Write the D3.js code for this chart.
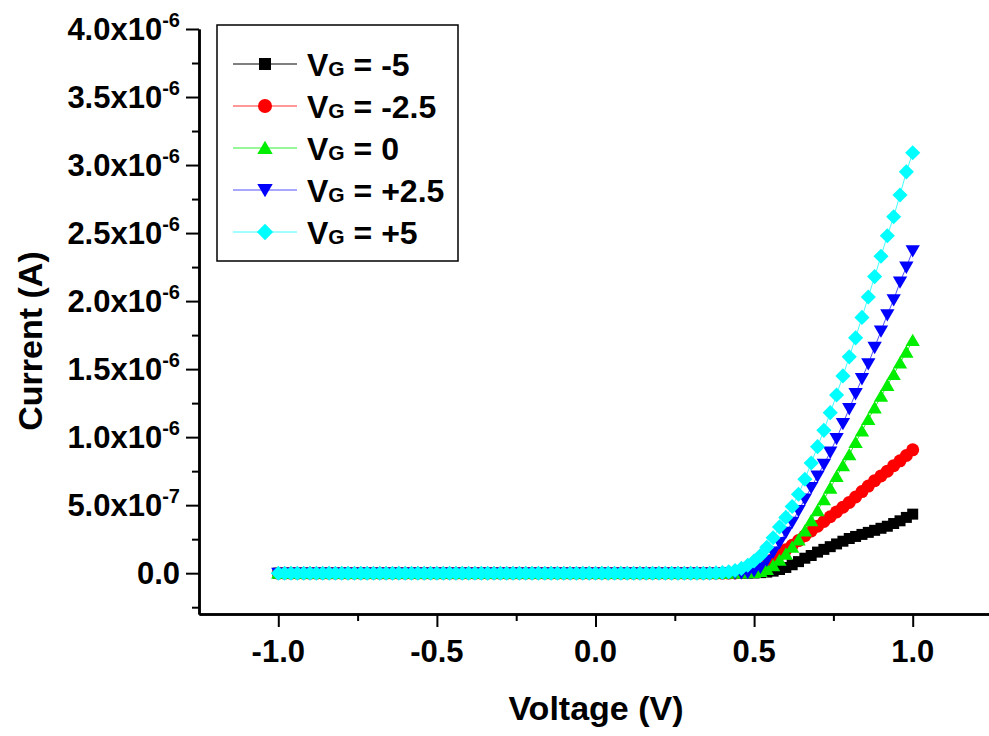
<!DOCTYPE html>
<html>
<head>
<meta charset="utf-8">
<script src="https://cdn.jsdelivr.net/npm/d3@7"></script>
<style>
  html, body { margin: 0; padding: 0; background: #fff; }
  svg { display: block; font-family: "Liberation Sans", Arial, sans-serif; font-weight: bold; }
</style>
</head>
<body>
<div id="chart"></div>
<script>
// I-V sweep, five gate voltages. Currents are in µA (1e-6 A).

const VOLTAGE = [
  -1.00, -0.98, -0.96, -0.94, -0.92, -0.90, -0.88, -0.86, -0.84, -0.82,
  -0.80, -0.78, -0.76, -0.74, -0.72, -0.70, -0.68, -0.66, -0.64, -0.62,
  -0.60, -0.58, -0.56, -0.54, -0.52, -0.50, -0.48, -0.46, -0.44, -0.42,
  -0.40, -0.38, -0.36, -0.34, -0.32, -0.30, -0.28, -0.26, -0.24, -0.22,
  -0.20, -0.18, -0.16, -0.14, -0.12, -0.10, -0.08, -0.06, -0.04, -0.02,
   0.00,  0.02,  0.04,  0.06,  0.08,  0.10,  0.12,  0.14,  0.16,  0.18,
   0.20,  0.22,  0.24,  0.26,  0.28,  0.30,  0.32,  0.34,  0.36,  0.38,
   0.40,  0.42,  0.44,  0.46,  0.48,  0.50,  0.52,  0.54,  0.56,  0.58,
   0.60,  0.62,  0.64,  0.66,  0.68,  0.70,  0.72,  0.74,  0.76,  0.78,
   0.80,  0.82,  0.84,  0.86,  0.88,  0.90,  0.92,  0.94,  0.96,  0.98,
   1.00,
];

const I_VG_M5 = [
  0, 0, 0, 0, 0, 0, 0, 0, 0, 0, 0, 0, 0, 0, 0, 0, 0, 0, 0, 0, 0, 0, 0,
  0, 0, 0, 0, 0, 0, 0, 0, 0, 0, 0, 0, 0, 0, 0, 0, 0, 0, 0, 0, 0, 0, 0,
  0, 0, 0, 0, 0, 0, 0, 0, 0, 0, 0, 0, 0, 0, 0, 0, 0, 0, 0, 0, 0, 0, 0,
  0, 0, 0, 0, 0.001, 0.001, 0.002, 0.004, 0.008, 0.015, 0.027, 0.042,
  0.062, 0.085, 0.11, 0.13, 0.155, 0.175, 0.195, 0.215, 0.235, 0.255,
  0.27, 0.285, 0.30, 0.315, 0.33, 0.345, 0.365, 0.385, 0.41, 0.434,
];
const I_VG_M25 = [
  0, 0, 0, 0, 0, 0, 0, 0, 0, 0, 0, 0, 0, 0, 0, 0, 0, 0, 0, 0, 0, 0, 0,
  0, 0, 0, 0, 0, 0, 0, 0, 0, 0, 0, 0, 0, 0, 0, 0, 0, 0, 0, 0, 0, 0, 0,
  0, 0, 0, 0, 0, 0, 0, 0, 0, 0, 0, 0, 0, 0, 0, 0, 0, 0, 0, 0, 0, 0, 0,
  0, 0, 0.001, 0.002, 0.005, 0.012, 0.025, 0.045, 0.072, 0.103, 0.138, 0.172,
  0.205, 0.24, 0.275, 0.31, 0.345, 0.38, 0.415, 0.45, 0.485, 0.52,
  0.56, 0.60, 0.64, 0.68, 0.715, 0.75, 0.79, 0.826, 0.865, 0.907,
];
const I_VG_0 = [
  0, 0, 0, 0, 0, 0, 0, 0, 0, 0, 0, 0, 0, 0, 0, 0, 0, 0, 0, 0, 0, 0, 0,
  0, 0, 0, 0, 0, 0, 0, 0, 0, 0, 0, 0, 0, 0, 0, 0, 0, 0, 0, 0, 0, 0, 0,
  0, 0, 0, 0, 0, 0, 0, 0, 0, 0, 0, 0, 0, 0, 0, 0, 0, 0, 0, 0, 0, 0, 0,
  0, 0, 0.001, 0.001, 0.002, 0.003, 0.006, 0.013, 0.028, 0.055, 0.095, 0.14,
  0.19, 0.245, 0.31, 0.385, 0.46, 0.54, 0.625, 0.71, 0.79, 0.87,
  0.96, 1.045, 1.13, 1.215, 1.30, 1.38, 1.46, 1.545, 1.625, 1.71,
];
const I_VG_P25 = [
  0, 0, 0, 0, 0, 0, 0, 0, 0, 0, 0, 0, 0, 0, 0, 0, 0, 0, 0, 0, 0, 0, 0,
  0, 0, 0, 0, 0, 0, 0, 0, 0, 0, 0, 0, 0, 0, 0, 0, 0, 0, 0, 0, 0, 0, 0,
  0, 0, 0, 0, 0, 0, 0, 0, 0, 0, 0, 0, 0, 0, 0, 0, 0, 0, 0, 0, 0, 0, 0,
  0, 0, 0.001, 0.001, 0.002, 0.006, 0.018, 0.045, 0.095, 0.155, 0.225, 0.30,
  0.375, 0.46, 0.545, 0.63, 0.715, 0.80, 0.89, 0.99, 1.10, 1.21,
  1.32, 1.43, 1.54, 1.66, 1.78, 1.90, 2.01, 2.14, 2.25, 2.37,
];
const I_VG_P5 = [
  0, 0, 0, 0, 0, 0, 0, 0, 0, 0, 0, 0, 0, 0, 0, 0, 0, 0, 0, 0, 0, 0, 0,
  0, 0, 0, 0, 0, 0, 0, 0, 0, 0, 0, 0, 0, 0, 0, 0, 0, 0, 0, 0, 0, 0, 0,
  0, 0, 0, 0, 0, 0, 0, 0, 0, 0, 0, 0, 0, 0, 0, 0, 0, 0, 0, 0, 0, 0, 0,
  0.002, 0.005, 0.01, 0.02, 0.035, 0.058, 0.09, 0.13, 0.19, 0.26, 0.34, 0.41,
  0.49, 0.58, 0.69, 0.81, 0.93, 1.05, 1.18, 1.31, 1.45, 1.59,
  1.73, 1.88, 2.03, 2.18, 2.33, 2.48, 2.62, 2.78, 2.95, 3.09,
];

const SERIES_LABELS = ["-5", "-2.5", "0", "+2.5", "+5"];
const SERIES_VALUES = [I_VG_M5, I_VG_M25, I_VG_0, I_VG_P25, I_VG_P5];
const SERIES_COLORS = ["#000000", "#ff0000", "#00ee00", "#0000ff", "#00ffff"];
const SERIES_LINE = ["#000000", "#ff3030", "#30ee30", "#5050ff", "#40ffff"];
const SERIES_SHAPE = ["square", "circle", "up", "down", "diamond"];

const X_MAJOR = [-1.0, -0.5, 0.0, 0.5, 1.0];
const X_MINOR = [-0.75, -0.25, 0.25, 0.75, 1.25];
const Y_MAJOR = [0, 0.5, 1.0, 1.5, 2.0, 2.5, 3.0, 3.5, 4.0];
const Y_MINOR = [-0.25, 0.25, 0.75, 1.25, 1.75, 2.25, 2.75, 3.25, 3.75];

const W = 989, H = 736;
const PLOT = { left: 199, right: 992, top: 29, bottom: 614 };

const x = d3.scaleLinear().domain([-1.25, 1.25]).range([PLOT.left, PLOT.right]);
const y = d3.scaleLinear().domain([-0.3, 4.0]).range([PLOT.bottom, PLOT.top]);

function markerPath(shape, s) {
  if (shape === "square") return `M${-s},${-s}H${s}V${s}H${-s}Z`;
  if (shape === "circle") return `M${-s},0a${s},${s} 0 1,0 ${2 * s},0a${s},${s} 0 1,0 ${-2 * s},0Z`;
  if (shape === "up") return `M0,${-s * 1.05}L${s * 1.1},${s * 0.85}L${-s * 1.1},${s * 0.85}Z`;
  if (shape === "down") return `M0,${s * 1.05}L${s * 1.1},${-s * 0.85}L${-s * 1.1},${-s * 0.85}Z`;
  return `M0,${-s * 1.2}L${s * 1.2},0L0,${s * 1.2}L${-s * 1.2},0Z`; // diamond
}
const MARKER_SIZE = { square: 5.5, circle: 6.5, up: 6.5, down: 6.5, diamond: 6.3 };

const svg = d3.select("#chart").append("svg")
  .attr("width", W).attr("height", H)
  .attr("viewBox", `0 0 ${W} ${H}`);

// ─── data ──────────────────────────────────────────────────────────────
const line = d3.line().x((d) => x(d[0])).y((d) => y(d[1]));

SERIES_VALUES.forEach((vals, k) => {
  const pts = VOLTAGE.map((v, i) => [v, vals[i]]);
  const g = svg.append("g").attr("class", "series");
  g.append("path")
    .attr("d", line(pts))
    .attr("fill", "none")
    .attr("stroke", SERIES_LINE[k])
    .attr("stroke-width", 1);
  g.selectAll("path.pt")
    .data(pts)
    .join("path")
    .attr("class", "pt")
    .attr("transform", (d) => `translate(${x(d[0])},${y(d[1])})`)
    .attr("d", markerPath(SERIES_SHAPE[k], MARKER_SIZE[SERIES_SHAPE[k]]))
    .attr("fill", SERIES_COLORS[k]);
});

// ─── axes ──────────────────────────────────────────────────────────────
const axisStroke = (g) => {
  g.select(".domain").attr("stroke", "#000").attr("stroke-width", 2.5);
  g.selectAll(".tick line").attr("stroke", "#000").attr("stroke-width", 2);
  g.selectAll(".tick text").remove();
};

svg.append("g")
  .attr("transform", `translate(${PLOT.left},0)`)
  .call(d3.axisLeft(y).tickValues(Y_MAJOR).tickSize(13).tickSizeOuter(0))
  .call(axisStroke);
svg.append("g")
  .attr("transform", `translate(${PLOT.left},0)`)
  .call(d3.axisLeft(y).tickValues(Y_MINOR).tickSize(7).tickSizeOuter(0))
  .call(axisStroke);
svg.append("g")
  .attr("transform", `translate(0,${PLOT.bottom})`)
  .call(d3.axisBottom(x).tickValues(X_MAJOR).tickSize(13).tickSizeOuter(0))
  .call(axisStroke);
svg.append("g")
  .attr("transform", `translate(0,${PLOT.bottom})`)
  .call(d3.axisBottom(x).tickValues(X_MINOR).tickSize(7).tickSizeOuter(0))
  .call(axisStroke);

// y tick labels like "2.5x10^-6"
const yLab = svg.append("g").attr("font-size", 31).attr("text-anchor", "end");
Y_MAJOR.forEach((v) => {
  const t = yLab.append("text").attr("x", 180).attr("y", y(v) + 11);
  if (v === 0) { t.text("0.0"); return; }
  const exp = Math.floor(Math.log10(v * 1e-6));
  const mant = (v * 1e-6) / Math.pow(10, exp);
  t.append("tspan").text(`${mant.toFixed(1)}x10`);
  t.append("tspan").attr("font-size", 20).attr("dy", -13).text(String(exp));
});

svg.append("g").attr("font-size", 31).attr("text-anchor", "middle")
  .selectAll("text").data(X_MAJOR).join("text")
  .attr("x", (d) => x(d))
  .attr("y", 662)
  .text((d) => d.toFixed(1));

svg.append("text")
  .attr("x", 596).attr("y", 720)
  .attr("text-anchor", "middle")
  .attr("font-size", 34)
  .text("Voltage (V)");

svg.append("text")
  .attr("transform", "translate(42,341) rotate(-90)")
  .attr("text-anchor", "middle")
  .attr("font-size", 34)
  .text("Current (A)");

// ─── legend ────────────────────────────────────────────────────────────
const leg = svg.append("g");
leg.append("rect")
  .attr("x", 217).attr("y", 25).attr("width", 241).attr("height", 236)
  .attr("fill", "#fff").attr("stroke", "#000").attr("stroke-width", 1.5);

SERIES_LABELS.forEach((lab, k) => {
  const cy = 64 + k * 42;
  leg.append("line")
    .attr("x1", 233).attr("x2", 297).attr("y1", cy).attr("y2", cy)
    .attr("stroke", SERIES_LINE[k]).attr("stroke-width", 1);
  leg.append("path")
    .attr("transform", `translate(265,${cy})`)
    .attr("d", markerPath(SERIES_SHAPE[k], MARKER_SIZE[SERIES_SHAPE[k]] + 0.5))
    .attr("fill", SERIES_COLORS[k]);
  const t = leg.append("text").attr("x", 307).attr("y", cy + 11.5).attr("font-size", 32);
  t.append("tspan").text("V");
  t.append("tspan").attr("font-size", 21).text("G");
  t.append("tspan").text(` = ${lab}`);
});
</script>
</body>
</html>
